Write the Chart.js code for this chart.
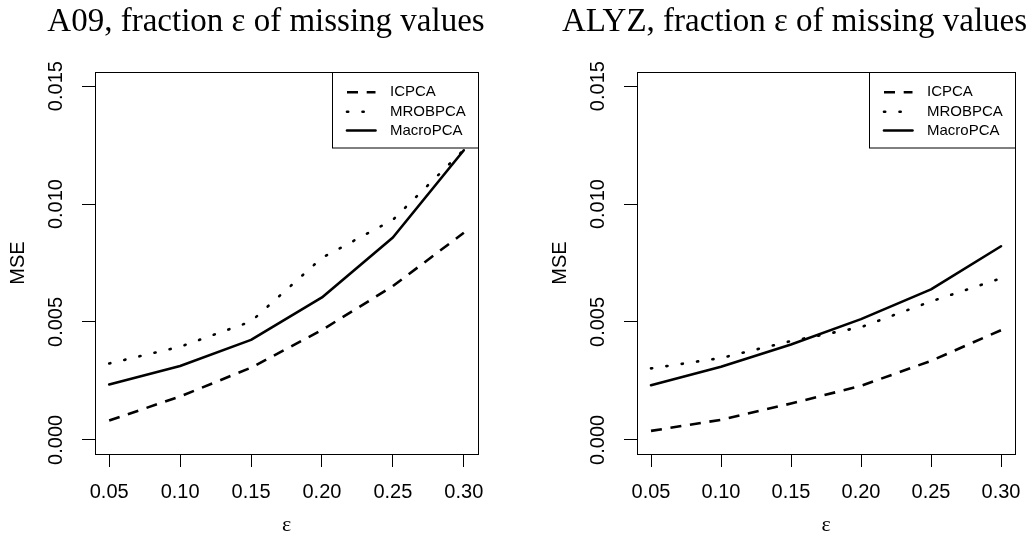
<!DOCTYPE html>
<html><head><meta charset="utf-8">
<script src="https://cdn.jsdelivr.net/npm/chart.js@4.4.1/dist/chart.umd.min.js"></script>
<style>
html,body{margin:0;padding:0;background:#fff;}
#wrap{position:relative;width:1034px;height:544px;overflow:hidden;}
canvas{position:absolute;top:0;}
</style></head><body>
<div id="wrap">
<canvas id="c1" width="517" height="544" style="left:0px"></canvas>
<canvas id="c2" width="517" height="544" style="left:517px"></canvas>
</div>
<script>
// ---- data ----
const epsilon = [0.05, 0.10, 0.15, 0.20, 0.25, 0.30];
const xTickLabels = ['0.05', '0.10', '0.15', '0.20', '0.25', '0.30'];
const yTickValues = [0, 0.005, 0.010, 0.015];
const yTickLabels = ['0.000', '0.005', '0.010', '0.015'];
const seriesNames = ['ICPCA', 'MROBPCA', 'MacroPCA'];

const a09ICPCA    = [0.00082, 0.00184, 0.00306, 0.00466, 0.00652, 0.00878];
const a09MROBPCA  = [0.00324, 0.00395, 0.00502, 0.00772, 0.00933, 0.01230];
const a09MacroPCA = [0.00235, 0.00313, 0.00424, 0.00604, 0.00858, 0.01228];

const alyzICPCA    = [0.00038, 0.00085, 0.00154, 0.00229, 0.00335, 0.00465];
const alyzMROBPCA  = [0.00303, 0.00347, 0.00419, 0.00478, 0.00587, 0.00685];
const alyzMacroPCA = [0.00232, 0.00310, 0.00404, 0.00512, 0.00638, 0.00821];

const panelTitles = ['A09, fraction \u03b5 of missing values', 'ALYZ, fraction \u03b5 of missing values'];
const xAxisTitle = '\u03b5';
const yAxisTitle = 'MSE';

// ---- styles ----
const lineStyles = [
  {borderDash: [11, 8.7], borderCapStyle: 'butt'},
  {borderDash: [1.2, 14.3], borderCapStyle: 'round'},
  {borderDash: [], borderCapStyle: 'round'}
];
const LW = 2.6;

function labelFor(values, labels, v) {
  const i = values.findIndex(e => Math.abs(e - v) < 1e-9);
  return i >= 0 ? labels[i] : '';
}

const decorPlugin = {
  id: 'decor',
  afterDraw(chart, args, opts) {
    const ctx = chart.ctx;
    const ca = chart.chartArea;
    ctx.save();
    // plot box
    ctx.strokeStyle = '#000';
    ctx.lineWidth = 1;
    ctx.setLineDash([]);
    ctx.strokeRect(Math.round(ca.left) + 0.5, Math.round(ca.top) + 0.5,
                   Math.round(ca.right - ca.left), Math.round(ca.bottom - ca.top));
    // legend
    const bw = 146, bh = 75.5;
    const bx = Math.round(ca.right - bw) + 0.5, by = Math.round(ca.top) + 0.5;
    ctx.fillStyle = '#fff';
    ctx.fillRect(bx, by, bw, bh);
    ctx.strokeRect(bx, by, bw, bh);
    const rows = [19.7, 39.2, 58];
    chart.data.datasets.forEach((ds, i) => {
      const y = by + rows[i];
      ctx.beginPath();
      ctx.lineWidth = ds.borderWidth;
      ctx.lineCap = ds.borderCapStyle;
      ctx.setLineDash(ds.borderDash);
      ctx.moveTo(bx + 14.5, y);
      ctx.lineTo(bx + 43, y);
      ctx.stroke();
      ctx.setLineDash([]);
      ctx.fillStyle = '#000';
      ctx.font = '15px "Liberation Sans"';
      ctx.textAlign = 'left';
      ctx.textBaseline = 'middle';
      ctx.fillText(ds.label, bx + 57.5, y);
    });
    // title
    ctx.fillStyle = '#000';
    ctx.font = '33px "Liberation Serif"';
    ctx.textAlign = 'center';
    ctx.textBaseline = 'alphabetic';
    ctx.fillText(opts.text, opts.x, 30.5);
    ctx.restore();
  }
};

function makeChart(canvasId, seriesValues, title, geom) {
  const datasets = seriesValues.map((vals, i) => ({
    label: seriesNames[i],
    data: epsilon.map((x, j) => ({x: x, y: vals[j]})),
    borderColor: '#000',
    backgroundColor: '#000',
    borderWidth: LW,
    borderDash: lineStyles[i].borderDash,
    borderCapStyle: lineStyles[i].borderCapStyle,
    borderJoinStyle: 'round',
    pointRadius: 0,
    fill: false,
    tension: 0
  }));
  return new Chart(document.getElementById(canvasId), {
    type: 'line',
    data: {datasets: datasets},
    plugins: [decorPlugin],
    options: {
      responsive: false,
      animation: false,
      devicePixelRatio: 1,
      layout: {padding: {left: 0, right: geom.padRight, top: 72, bottom: 0}},
      plugins: {
        legend: {display: false},
        tooltip: {enabled: false},
        title: {display: false},
        decor: {text: title, x: geom.titleX}
      },
      scales: {
        x: {
          type: 'linear', min: 0.04, max: 0.31,
          afterBuildTicks: s => { s.ticks = epsilon.map(v => ({value: v})); },
          afterFit: s => { s.height = 90; },
          ticks: {
            callback: v => labelFor(epsilon, xTickLabels, v),
            font: {family: 'Liberation Sans', size: 20}, color: '#000',
            padding: 13, maxRotation: 0, autoSkip: false
          },
          grid: {drawOnChartArea: false, drawTicks: true, tickLength: 13, color: '#000', lineWidth: 1},
          border: {display: false},
          title: {display: true, text: xAxisTitle, font: {family: 'Liberation Serif', size: 22}, color: '#000', padding: 6}
        },
        y: {
          type: 'linear', min: -0.0006, max: 0.0156,
          afterBuildTicks: s => { s.ticks = yTickValues.map(v => ({value: v})); },
          afterFit: s => { s.width = geom.yWidth; },
          ticks: {
            callback: v => labelFor(yTickValues, yTickLabels, v),
            font: {family: 'Liberation Sans', size: 20}, color: '#000',
            minRotation: 90, maxRotation: 90, crossAlign: 'center', padding: 0, autoSkip: false
          },
          grid: {drawOnChartArea: false, drawTicks: true, tickLength: 13, color: '#000', lineWidth: 1},
          border: {display: false},
          title: {display: true, text: yAxisTitle, font: {family: 'Liberation Sans', size: 20}, color: '#000', padding: geom.yTitlePad}
        }
      }
    }
  });
}

makeChart('c1', [a09ICPCA, a09MROBPCA, a09MacroPCA], panelTitles[0],
          {yWidth: 95, padRight: 39, yTitlePad: 6, titleX: 266});
makeChart('c2', [alyzICPCA, alyzMROBPCA, alyzMacroPCA], panelTitles[1],
          {yWidth: 120, padRight: 14, yTitlePad: 31.5, titleX: 277.5});
</script>
</body></html>
